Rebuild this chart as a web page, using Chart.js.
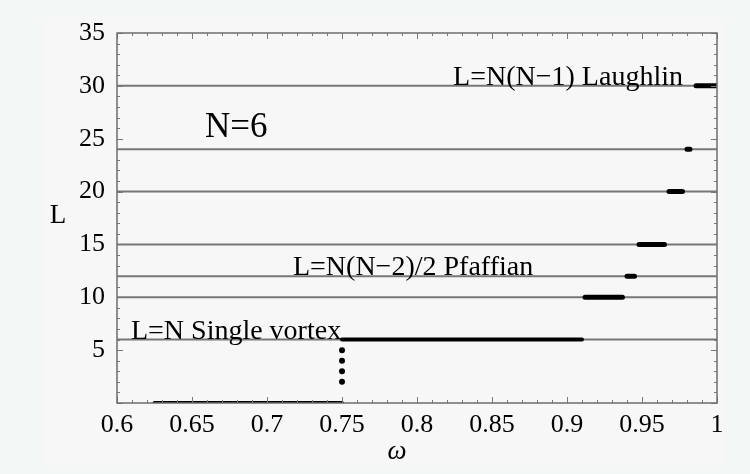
<!DOCTYPE html>
<html>
<head>
<meta charset="utf-8">
<script src="https://cdn.jsdelivr.net/npm/chart.js@4.4.0/dist/chart.umd.min.js"></script>
<style>
  html, body { margin: 0; padding: 0; background: #f3f7f5; }
  #wrap { width: 750px; height: 474px; }
</style>
</head>
<body>
<div id="wrap"><canvas id="c" width="750" height="474"></canvas></div>
<script>
// ---- data ----
const omegaTicks = [0.6, 0.65, 0.7, 0.75, 0.8, 0.85, 0.9, 0.95, 1];
const lTicks = [5, 10, 15, 20, 25, 30, 35];
const refLevels = [6, 10, 12, 15, 20, 24, 30];
// ground-state angular momentum plateaus: omega range [start, end] at L
const segStart = [0.625, 0.750, 0.912, 0.940, 0.948, 0.968, 0.980, 0.986];
const segEnd   = [0.750, 0.910, 0.937, 0.945, 0.965, 0.977, 0.982, 1.000];
const segL     = [0, 6, 10, 12, 15, 20, 24, 30];
// isolated points at the vortex-entry jump
const jumpOmega = [0.75, 0.75, 0.75, 0.75];
const jumpL     = [2, 3, 4, 5];
const annotTexts = ["L=N Single vortex", "L=N(N\u22122)/2 Pfaffian", "L=N(N\u22121) Laughlin", "N=6"];
const xTitle = "\u03c9";
const yTitle = "L";

const SERIF = "'Liberation Serif', 'DejaVu Serif', serif";

const datasets = [];
refLevels.forEach(L => {
  datasets.push({
    data: [{x: omegaTicks[0], y: L}, {x: omegaTicks[omegaTicks.length - 1], y: L}],
    showLine: true, borderColor: '#777777', borderWidth: 2, pointRadius: 0, order: 3
  });
});
segL.forEach((L, i) => {
  datasets.push({
    data: [{x: segStart[i], y: L}, {x: segEnd[i], y: L}],
    showLine: true, borderColor: '#000', borderWidth: (L <= 6 ? 4 : 5),
    borderCapStyle: 'round', pointRadius: 0, order: 1
  });
});
datasets.push({
  data: jumpOmega.map((w, i) => ({x: w, y: jumpL[i]})),
  showLine: false, pointRadius: 3, pointBackgroundColor: '#000', pointBorderWidth: 0, order: 1
});

const deco = {
  id: 'deco',
  beforeDraw(chart) {
    const ctx = chart.ctx;
    ctx.save();
    ctx.fillStyle = '#f3f7f5';
    ctx.fillRect(0, 0, 750, 474);
    ctx.fillStyle = '#f7f7f7';
    ctx.fillRect(43, 17, 680, 448);
    ctx.restore();
  },
  afterDraw(chart) {
    const ctx = chart.ctx;
    const xs = chart.scales.x, ys = chart.scales.y;
    const {left, right, top, bottom} = chart.chartArea;
    ctx.save();
    // inward ticks
    ctx.strokeStyle = '#7a7a7a';
    ctx.lineWidth = 1;
    ctx.beginPath();
    for (let k = 0; k <= 40; k++) {
      const v = 0.6 + k * 0.01;
      const px = Math.round(xs.getPixelForValue(v)) + 0.5;
      const len = (k % 5 === 0) ? 6 : 3;
      ctx.moveTo(px, bottom); ctx.lineTo(px, bottom - len);
      ctx.moveTo(px, top); ctx.lineTo(px, top + len);
    }
    for (let k = 0; k <= 35; k++) {
      const py = Math.round(ys.getPixelForValue(k)) + 0.5;
      const len = (k % 5 === 0) ? 6 : 3;
      ctx.moveTo(left, py); ctx.lineTo(left + len, py);
      ctx.moveTo(right, py); ctx.lineTo(right - len, py);
    }
    ctx.stroke();
    // frame
    ctx.lineWidth = 1.5;
    ctx.strokeStyle = '#6e6e6e';
    ctx.strokeRect(left, top, right - left, bottom - top);

    // annotations
    ctx.fillStyle = '#000';
    ctx.textBaseline = 'alphabetic';
    ctx.font = "28px " + SERIF;
    ctx.textAlign = 'left';
    ctx.fillText(annotTexts[0], xs.getPixelForValue(0.6093), ys.getPixelForValue(6) - 1);
    ctx.fillText(annotTexts[1], xs.getPixelForValue(0.7173), ys.getPixelForValue(12) - 1);
    ctx.textAlign = 'right';
    ctx.fillText(annotTexts[2], xs.getPixelForValue(0.9773), ys.getPixelForValue(30) - 1);
    ctx.textAlign = 'left';
    ctx.font = "35px " + SERIF;
    ctx.fillText(annotTexts[3], xs.getPixelForValue(0.6587), ys.getPixelForValue(25.2));

    // axis titles
    ctx.font = "27px " + SERIF;
    ctx.textAlign = 'center';
    ctx.textBaseline = 'middle';
    ctx.fillText(yTitle, 58, 216);
    ctx.font = "italic 27px " + SERIF;
    ctx.fillText(xTitle, 397, 452);
    ctx.restore();
  }
};

new Chart(document.getElementById('c'), {
  type: 'scatter',
  data: { datasets },
  options: {
    responsive: false,
    animation: false,
    events: [],
    layout: { padding: { left: 0, top: 33, right: 33, bottom: 0 } },
    plugins: { legend: { display: false }, tooltip: { enabled: false } },
    scales: {
      x: {
        type: 'linear', min: 0.6, max: 1,
        afterBuildTicks: s => { s.ticks = omegaTicks.map(v => ({value: v})); },
        afterFit: s => { s.height = 71; },
        grid: { display: false, drawTicks: false },
        border: { display: false },
        ticks: { font: { family: SERIF, size: 26 }, color: '#000', padding: 7,
                 maxRotation: 0, autoSkip: false, callback: v => String(v) }
      },
      y: {
        type: 'linear', min: 0, max: 35,
        afterBuildTicks: s => { s.ticks = lTicks.map(v => ({value: v})); },
        afterFit: s => { s.width = 117; },
        grid: { display: false, drawTicks: false },
        border: { display: false },
        ticks: { font: { family: SERIF, size: 26 }, color: '#000', padding: 12,
                 autoSkip: false, callback: v => String(v) }
      }
    }
  },
  plugins: [deco]
});
</script>
</body>
</html>
